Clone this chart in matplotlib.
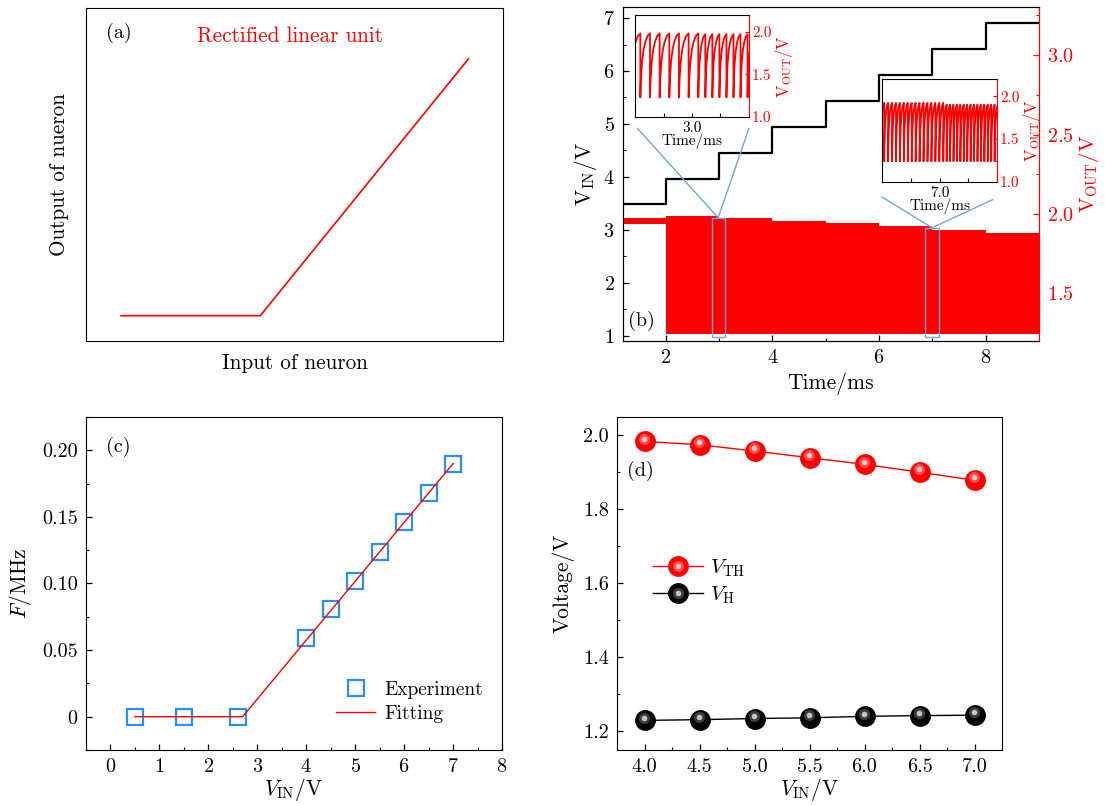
import numpy as np
import matplotlib
matplotlib.use("Agg")
import matplotlib.pyplot as plt
from matplotlib.patches import Rectangle, ConnectionPatch
from matplotlib.ticker import MultipleLocator, FixedLocator, FuncFormatter
from matplotlib.legend_handler import HandlerTuple
from matplotlib.transforms import offset_copy

plt.rcParams['font.family'] = 'serif'
plt.rcParams['font.serif'] = ['cmr10']
plt.rcParams['mathtext.fontset'] = 'cm'
plt.rcParams['axes.formatter.use_mathtext'] = True
plt.rcParams['axes.unicode_minus'] = False

# ---- data ----
# (a) ReLU sketch (axes fraction)
relu_x = [0.084, 0.418, 0.917]
relu_y = [0.076, 0.076, 0.847]

# (b) input voltage steps (ms, V) and resting output before spiking
step_t = [1.2, 2, 3, 4, 5, 6, 7, 8, 9.0]
vin_level = [3.48, 3.96, 4.45, 4.94, 5.43, 5.93, 6.41, 6.90]
vout_rest = 1.957
zoom_win = [(2.9, 3.1), (6.9, 7.1)]      # inset time windows
zoom_box = [(2.86, 3.11), (6.87, 7.12)]  # blue boxes in main plot
box_top = [1.976, 1.913]
box_bottom = 1.226

# (c) firing frequency vs input voltage
vin_exp = [0.5, 1.5, 2.6, 4.0, 4.5, 5.0, 5.5, 6.0, 6.5, 7.0]
freq_exp = [0, 0, 0, 0.059, 0.081, 0.102, 0.124, 0.146, 0.168, 0.190]
vin_fit = [0.5, 2.7, 7.0]
freq_fit = [0, 0, 0.19]

# (d) threshold / hold voltages
vin_d = [4.0, 4.5, 5.0, 5.5, 6.0, 6.5, 7.0]
v_th = [1.984, 1.975, 1.958, 1.940, 1.922, 1.901, 1.879]
v_h = [1.230, 1.232, 1.235, 1.237, 1.241, 1.243, 1.244]
spike_freq = freq_exp[3:]   # MHz, for steps 2-3 ms ... 8-9 ms
band_bottom = 1.247         # lowest trough in main trace

# shape of one charging tooth (phase, fraction of swing)
tooth_phase = [0.0, 0.07, 0.18, 0.33, 0.52, 0.75, 1.0]
tooth_frac = [0.0, 0.30, 0.55, 0.74, 0.87, 0.96, 1.0]

W, H = 1105, 805
fig = plt.figure(figsize=(W / 100, H / 100), dpi=100)


def px_axes(x0, y0, x1, y1):
    return fig.add_axes([x0 / W, 1 - y1 / H, (x1 - x0) / W, (y1 - y0) / H])


def ticks_in(ax, **kw):
    ax.tick_params(which='both', direction='in', top=False, right=False, **kw)
    ax.tick_params(which='major', length=4.5, width=0.9)
    ax.tick_params(which='minor', length=2.5, width=0.8)


TICK = 14.5
LAB = 15.5
BLUE_BOX = '#6fa8dc'

# ---------------- (a) ----------------
ax_a = px_axes(86, 8, 503, 341)
ax_a.plot(relu_x, relu_y, color='red', lw=1.2)
ax_a.set_xlim(0, 1)
ax_a.set_ylim(0, 1)
ax_a.set_xticks([])
ax_a.set_yticks([])
ax_a.text(0.079, 0.925, '(a)', transform=ax_a.transAxes, ha='center', va='center', fontsize=14.5)
ax_a.text(0.49, 0.916, 'Rectified linear unit', transform=ax_a.transAxes, ha='center',
          va='center', fontsize=15.3, color='red')
ax_a.set_xlabel('Input of neuron', fontsize=15.3, labelpad=9)
ax_a.set_ylabel('Output of nueron', fontsize=15.3, labelpad=12)

# ---------------- (b) ----------------
ax_b = px_axes(623, 7.5, 1039, 341)
ax_b.step(step_t, vin_level + [vin_level[-1]], where='post', color='black', lw=1.6, zorder=3)
ax_b.set_xlim(1.2, 9.0)
ax_b.set_ylim(0.9, 7.2)
ax_b.xaxis.set_major_locator(FixedLocator([2, 4, 6, 8]))
ax_b.xaxis.set_minor_locator(FixedLocator([3, 5, 7]))
ax_b.yaxis.set_major_locator(MultipleLocator(1))
ax_b.yaxis.set_minor_locator(MultipleLocator(0.5))
ticks_in(ax_b, labelsize=TICK, pad=6)
ax_b.set_xlabel('Time/ms', fontsize=LAB, labelpad=4)
ax_b.set_ylabel(r'$\mathrm{V_{IN}}$/V', fontsize=LAB, labelpad=3)

ax_r = ax_b.twinx()
ax_r.set_ylim(1.2, 3.3)
spk_t = step_t[1:]
ax_r.fill_between(spk_t, [band_bottom] * len(spk_t), v_th + [v_th[-1]], step='post',
                  color='red', lw=0, zorder=2)
ax_r.fill_between([step_t[0], step_t[1]], vout_rest - 0.018, vout_rest + 0.018,
                  color='red', lw=0)
ax_r.yaxis.set_major_locator(MultipleLocator(0.5))
ax_r.yaxis.set_minor_locator(MultipleLocator(0.25))
ax_r.tick_params(which='both', direction='in', colors='red', labelsize=TICK, pad=6)
ax_r.tick_params(which='major', length=4.5, width=0.9)
ax_r.tick_params(which='minor', length=2.5, width=0.8)
ax_r.spines['right'].set_color('red')
ax_r.set_ylabel(r'$\mathrm{V_{OUT}}$/V', fontsize=15, color='red', labelpad=2)
ax_b.text(1.55, 1.27, '(b)', fontsize=14.5, ha='center', va='center', zorder=5)

for (b0, b1), top in zip(zoom_box, box_top):
    ax_r.add_patch(Rectangle((b0, box_bottom), b1 - b0, top - box_bottom, fill=False,
                             ec=BLUE_BOX, lw=1.0, zorder=4))


def spike_train(t0, t1):
    ts, vs = [], []
    k = np.searchsorted(step_t, t0, side='right') - 2
    t = t0 - 0.45 * 1e-3 / spike_freq[k]
    while t < t1:
        k = np.searchsorted(step_t, t, side='right') - 2
        period = 1e-3 / spike_freq[k]
        lo, hi = v_h[k], v_th[k]
        for p, f in zip(tooth_phase, tooth_frac):
            ts.append(t + p * period)
            vs.append(lo + f * (hi - lo))
        t += period
    return ts, vs


inset_px = [(635, 15, 749, 117), (882, 79, 997, 182)]
line_start = [[(0.02, -0.11), (1.0, -0.11)], [(0.0, -0.146), (0.965, -0.17)]]
for (win, box), pos, starts, top in zip(zip(zoom_win, zoom_box), inset_px, line_start, box_top):
    ins = px_axes(*pos)
    ins.set_zorder(6)
    ts, vs = spike_train(*win)
    ins.plot(ts, vs, color='red', lw=1.3)
    ins.set_xlim(*win)
    ins.set_ylim(1.0, 2.2)
    mid = round((win[0] + win[1]) / 2, 2)
    ins.set_xticks([mid - 0.05, mid, mid + 0.05])
    ins.set_xticklabels(['', f'{mid:.1f}', ''])
    ins.tick_params(axis='x', direction='in', length=3, width=0.8, labelsize=11, pad=3)
    ins.yaxis.tick_right()
    ins.yaxis.set_label_position('right')
    ins.yaxis.set_major_locator(MultipleLocator(0.5))
    ins.yaxis.set_minor_locator(MultipleLocator(0.25))
    ins.yaxis.set_major_formatter(FuncFormatter(lambda v, _: f'{v:.1f}'))
    ins.tick_params(axis='y', which='both', direction='in', colors='red', labelsize=11, pad=2)
    ins.tick_params(axis='y', which='major', length=3)
    ins.tick_params(axis='y', which='minor', length=2)
    ins.spines['right'].set_color('red')
    ins.set_xlabel('Time/ms', fontsize=11, labelpad=-1)
    ins.set_ylabel(r'$\mathrm{V_{OUT}}$/V', fontsize=12, color='red', labelpad=1)
    cx = (box[0] + box[1]) / 2
    for s in starts:
        con = ConnectionPatch(xyA=s, coordsA=ins.transAxes, xyB=(cx, top),
                              coordsB=ax_r.transData, color=BLUE_BOX, lw=1.0)
        fig.add_artist(con)

# ---------------- (c) ----------------
ax_c = px_axes(86, 417, 502, 750)
ax_c.plot(vin_fit, freq_fit, color='red', lw=1.0, label='Fitting', zorder=3)
ax_c.plot(vin_exp, freq_exp, 's', ms=12, mfc='none', mec='#2b8ef0', mew=1.6,
          label='Experiment', zorder=2)
ax_c.set_xlim(-0.5, 8)
ax_c.set_ylim(-0.025, 0.225)
ax_c.xaxis.set_major_locator(MultipleLocator(1))
ax_c.xaxis.set_minor_locator(MultipleLocator(0.5))
ax_c.yaxis.set_major_locator(MultipleLocator(0.05))
ax_c.yaxis.set_minor_locator(MultipleLocator(0.025))
ax_c.yaxis.set_major_formatter(FuncFormatter(lambda v, _: '0' if abs(v) < 1e-9 else f'{v:.2f}'))
ticks_in(ax_c, labelsize=TICK, pad=6)
ax_c.set_xlabel(r'$V_{\rm IN}$/V', fontsize=LAB, labelpad=0)
ax_c.set_ylabel(r'$F$/MHz', fontsize=LAB, labelpad=6)
ax_c.text(0.154, 0.2025, '(c)', fontsize=14.5, ha='center', va='center')
h, l = ax_c.get_legend_handles_labels()
ax_c.legend(h[::-1], l[::-1], loc='upper left', bbox_to_anchor=(0.56, 0.26), frameon=False,
            fontsize=14, handlelength=2.0, handletextpad=0.45, labelspacing=0.3)

# ---------------- (d) ----------------
ax_d = px_axes(617, 417, 1002, 750)
handles = []
for vals, col, hl, lab in [(v_th, 'red', '#ffd0d0', r'$V_{\rm TH}$'),
                           (v_h, 'black', '#b0b0b0', r'$V_{\rm H}$')]:
    ln, = ax_d.plot(vin_d, vals, '-o', color=col, mec=col, ms=14, lw=1.0, zorder=3)
    off = offset_copy(ax_d.transData, fig=fig, x=-0.5, y=2.0, units='points')
    g1, = ax_d.plot(vin_d, vals, 'o', ms=8, color=hl, alpha=0.35, mec='none',
                    transform=off, zorder=4)
    g2, = ax_d.plot(vin_d, vals, 'o', ms=4, color='white', alpha=0.7, mec='none',
                    transform=off, zorder=5)
    handles.append(((ln, g1, g2), lab))
ax_d.set_xlim(3.75, 7.25)
ax_d.set_ylim(1.15, 2.05)
ax_d.xaxis.set_major_locator(MultipleLocator(0.5))
ax_d.xaxis.set_minor_locator(MultipleLocator(0.25))
ax_d.yaxis.set_major_locator(MultipleLocator(0.2))
ax_d.yaxis.set_minor_locator(MultipleLocator(0.1))
ax_d.xaxis.set_major_formatter(FuncFormatter(lambda v, _: f'{v:.1f}'))
ax_d.yaxis.set_major_formatter(FuncFormatter(lambda v, _: f'{v:.1f}'))
ticks_in(ax_d, labelsize=TICK, pad=6)
ax_d.set_xlabel(r'$V_{\rm IN}$/V', fontsize=LAB, labelpad=0)
ax_d.set_ylabel('Voltage/V', fontsize=LAB, labelpad=6)
ax_d.text(3.96, 1.904, '(d)', fontsize=14.5, ha='center', va='center')
ax_d.legend([hh for hh, _ in handles], [ll for _, ll in handles],
            handler_map={tuple: HandlerTuple(ndivide=1)}, loc='upper left',
            bbox_to_anchor=(0.045, 0.635), frameon=False, fontsize=15,
            handlelength=2.4, handletextpad=0.35, labelspacing=0.25)

fig.savefig('out.png', dpi=100, facecolor='white')
